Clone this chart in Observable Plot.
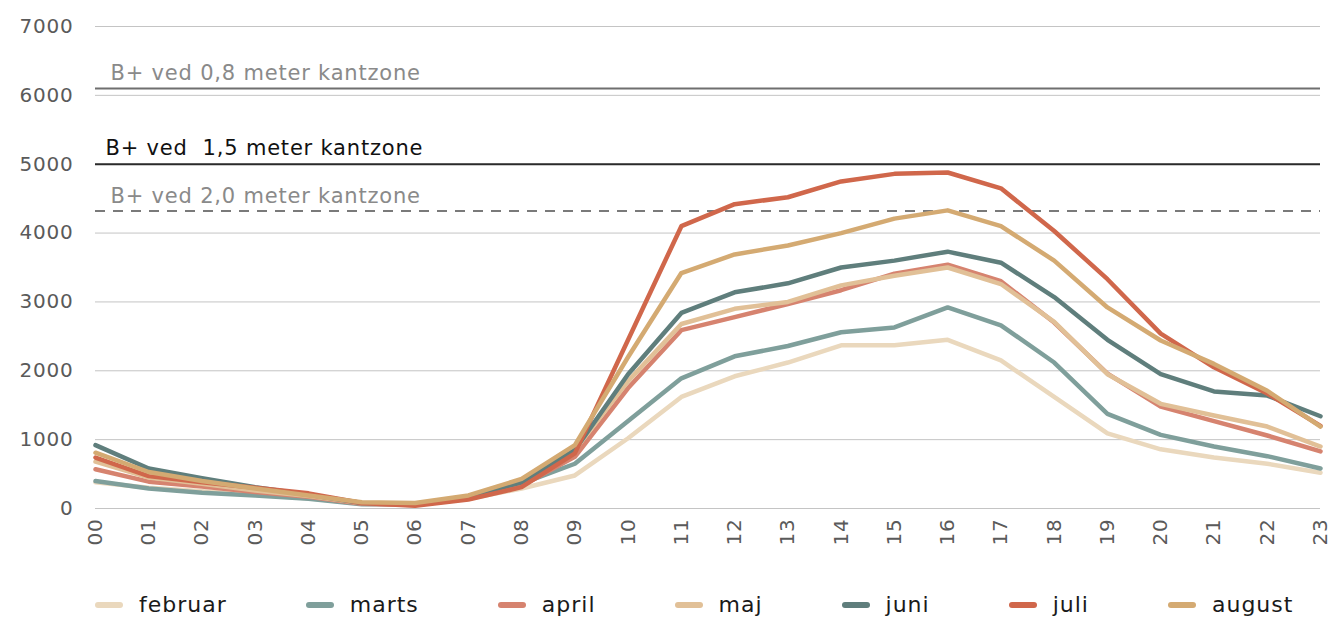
<!DOCTYPE html>
<html>
<head>
<meta charset="utf-8">
<script src="https://cdn.jsdelivr.net/npm/d3@7"></script>
<script src="https://cdn.jsdelivr.net/npm/@observablehq/plot@0.6"></script>
<style>
  body { margin: 0; background: #fff; font-family: "DejaVu Sans", sans-serif; }
  #chart svg { display: block; }
  #chart svg text { letter-spacing: 0.8px; }
  #legend { display: flex; align-items: center; padding-left: 95px; margin-top: 20px; font-size: 22px; letter-spacing: 1px; color: #1a1a1a; }
  .item { display: flex; align-items: center; margin-right: 79px; }
  .sw { width: 28px; height: 6px; border-radius: 3px; margin-right: 16px; }
</style>
</head>
<body>
<div id="chart"></div>
<div id="legend"></div>
<script>
const hours = d3.range(24);
const hourLabels = hours.map(h => String(h).padStart(2, "0"));

const months = ["februar", "marts", "april", "maj", "juni", "juli", "august"];
const colors = ["#ead8bd", "#7f9f9b", "#d6836f", "#e1c097", "#5f7e7c", "#d0674b", "#d4aa72"];

const februar = [380, 300, 250, 200, 150, 70, 60, 140, 290, 480, 1020, 1620, 1920, 2120, 2370, 2370, 2450, 2150, 1620, 1090, 860, 740, 650, 520];
const marts   = [400, 290, 230, 190, 140, 60, 60, 150, 360, 650, 1270, 1890, 2210, 2360, 2560, 2630, 2920, 2660, 2120, 1375, 1070, 900, 760, 580];
const april   = [570, 390, 320, 240, 170, 70, 50, 140, 330, 750, 1750, 2590, 2780, 2970, 3170, 3410, 3540, 3300, 2700, 1960, 1480, 1270, 1060, 830];
const maj     = [680, 450, 360, 260, 180, 80, 70, 160, 400, 850, 1850, 2680, 2900, 3000, 3240, 3380, 3500, 3260, 2710, 1950, 1520, 1350, 1190, 900];
const juni    = [920, 580, 440, 310, 200, 80, 60, 170, 380, 850, 1950, 2840, 3140, 3270, 3500, 3600, 3730, 3570, 3070, 2450, 1950, 1700, 1640, 1340];
const juli    = [740, 470, 380, 300, 220, 80, 40, 130, 310, 800, 2450, 4100, 4420, 4520, 4750, 4860, 4880, 4650, 4030, 3330, 2540, 2050, 1670, 1200];
const august  = [810, 530, 400, 290, 190, 90, 80, 190, 430, 920, 2200, 3420, 3690, 3820, 4000, 4210, 4330, 4100, 3600, 2920, 2440, 2100, 1710, 1190];

const refValues = [6100, 5000, 4320];
const refLabels = ["B+ ved 0,8 meter kantzone", "B+ ved  1,5 meter kantzone", "B+ ved 2,0 meter kantzone"];
const yTicks = [0, 1000, 2000, 3000, 4000, 5000, 6000, 7000];

const series = [februar, marts, april, maj, juni, juli, august];
const rows = [];
months.forEach((m, i) => series[i].forEach((v, h) => rows.push({month: m, hour: hours[h], value: v})));
const refs = refValues.map((v, i) => ({value: v, label: refLabels[i], idx: i}));
const grayRefs = refs.filter(d => d.idx !== 1);
const blackRefs = refs.filter(d => d.idx === 1);

const chart = Plot.plot({
  width: 1331,
  height: 572,
  marginLeft: 95,
  marginRight: 11,
  marginTop: 26,
  marginBottom: 64,
  style: {fontFamily: "'DejaVu Sans', sans-serif", background: "#fff"},
  x: {domain: [0, 23], label: null},
  y: {domain: [0, 7000], label: null},
  color: {domain: months, range: colors},
  marks: [
    Plot.ruleY(yTicks, {stroke: "#c4c4c4", strokeWidth: 1}),
    Plot.ruleY(refs.filter(d => d.idx === 0), {y: "value", stroke: "#6f6f6f", strokeWidth: 2}),
    Plot.ruleY(blackRefs, {y: "value", stroke: "#2b2b2b", strokeWidth: 2}),
    Plot.ruleY(refs.filter(d => d.idx === 2), {y: "value", stroke: "#7a7a7a", strokeWidth: 2, strokeDasharray: "10,8"}),
    Plot.line(rows, {x: "hour", y: "value", z: "month", stroke: "month", strokeWidth: 4.5, strokeLinejoin: "round", strokeLinecap: "round"}),
    Plot.text(grayRefs, {x: 0, y: "value", text: "label", textAnchor: "start", dx: 15, dy: -15, fontSize: 21, fill: "#8a8a8a"}),
    Plot.text(blackRefs, {x: 0, y: "value", text: "label", textAnchor: "start", dx: 10, dy: -16, fontSize: 21, fill: "#111"}),
    Plot.axisX({ticks: hours, tickFormat: h => hourLabels[h], tickRotate: -90, tickSize: 0, tickPadding: 10, fontSize: 20, fill: "#5a5a5a", label: null}),
    Plot.axisY({ticks: yTicks, tickFormat: d => String(d), tickSize: 0, tickPadding: 22, fontSize: 20, fill: "#5a5a5a", label: null})
  ]
});
document.getElementById("chart").append(chart);

const legend = document.getElementById("legend");
months.forEach((m, i) => {
  const it = document.createElement("div");
  it.className = "item";
  const sw = document.createElement("div");
  sw.className = "sw";
  sw.style.background = colors[i];
  const t = document.createElement("span");
  t.textContent = m;
  it.append(sw, t);
  legend.append(it);
});
</script>
</body>
</html>
